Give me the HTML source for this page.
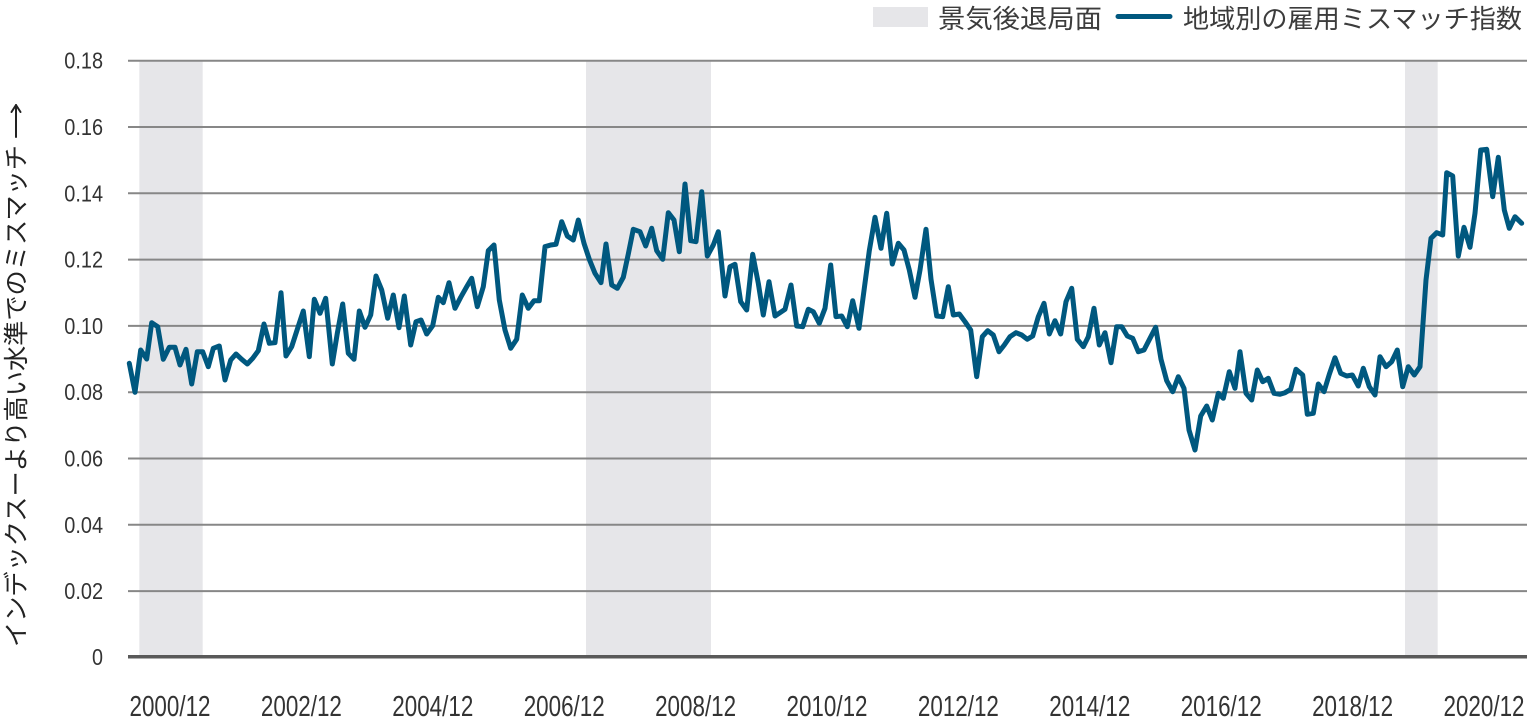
<!DOCTYPE html>
<html><head><meta charset="utf-8"><style>
html,body{margin:0;padding:0;background:#fff;}
svg{display:block;}
text{font-family:"Liberation Sans","Noto Sans CJK JP",sans-serif;}
</style></head><body>
<svg width="1532" height="720" viewBox="0 0 1532 720" xmlns="http://www.w3.org/2000/svg">
<rect x="0" y="0" width="1532" height="720" fill="#fff"/>
<!-- recession bands -->
<g fill="#e6e6e9">
<rect x="139.3" y="60" width="63.4" height="597"/>
<rect x="586" y="60" width="125" height="597"/>
<rect x="1405" y="60" width="32.7" height="597"/>
</g>
<!-- gridlines -->
<g stroke="#878787" stroke-width="2">
<line x1="128" x2="1527" y1="60.7" y2="60.7"/>
<line x1="128" x2="1527" y1="127" y2="127"/>
<line x1="128" x2="1527" y1="193.3" y2="193.3"/>
<line x1="128" x2="1527" y1="259.6" y2="259.6"/>
<line x1="128" x2="1527" y1="325.9" y2="325.9"/>
<line x1="128" x2="1527" y1="392.2" y2="392.2"/>
<line x1="128" x2="1527" y1="458.5" y2="458.5"/>
<line x1="128" x2="1527" y1="524.8" y2="524.8"/>
<line x1="128" x2="1527" y1="591.1" y2="591.1"/>
</g>
<line x1="128" x2="1527" y1="656.8" y2="656.8" stroke="#595959" stroke-width="3.5"/>
<!-- y tick labels -->
<g fill="#333" font-size="23" text-anchor="end">
<text x="103" y="68.7" textLength="38.7" lengthAdjust="spacingAndGlyphs">0.18</text>
<text x="103" y="135" textLength="38.7" lengthAdjust="spacingAndGlyphs">0.16</text>
<text x="103" y="201.3" textLength="38.7" lengthAdjust="spacingAndGlyphs">0.14</text>
<text x="103" y="267.6" textLength="38.7" lengthAdjust="spacingAndGlyphs">0.12</text>
<text x="103" y="333.9" textLength="38.7" lengthAdjust="spacingAndGlyphs">0.10</text>
<text x="103" y="400.2" textLength="38.7" lengthAdjust="spacingAndGlyphs">0.08</text>
<text x="103" y="466.5" textLength="38.7" lengthAdjust="spacingAndGlyphs">0.06</text>
<text x="103" y="532.8" textLength="38.7" lengthAdjust="spacingAndGlyphs">0.04</text>
<text x="103" y="599.1" textLength="38.7" lengthAdjust="spacingAndGlyphs">0.02</text>
<text x="103" y="665" textLength="11" lengthAdjust="spacingAndGlyphs">0</text>
</g>
<!-- x tick labels -->
<g fill="#333" font-size="29" text-anchor="middle">
<text x="170" y="716" textLength="81" lengthAdjust="spacingAndGlyphs">2000/12</text>
<text x="301.4" y="716" textLength="81" lengthAdjust="spacingAndGlyphs">2002/12</text>
<text x="432.8" y="716" textLength="81" lengthAdjust="spacingAndGlyphs">2004/12</text>
<text x="564.2" y="716" textLength="81" lengthAdjust="spacingAndGlyphs">2006/12</text>
<text x="695.6" y="716" textLength="81" lengthAdjust="spacingAndGlyphs">2008/12</text>
<text x="827" y="716" textLength="81" lengthAdjust="spacingAndGlyphs">2010/12</text>
<text x="958.4" y="716" textLength="81" lengthAdjust="spacingAndGlyphs">2012/12</text>
<text x="1089.8" y="716" textLength="81" lengthAdjust="spacingAndGlyphs">2014/12</text>
<text x="1221.2" y="716" textLength="81" lengthAdjust="spacingAndGlyphs">2016/12</text>
<text x="1352.6" y="716" textLength="81" lengthAdjust="spacingAndGlyphs">2018/12</text>
<text x="1484" y="716" textLength="81" lengthAdjust="spacingAndGlyphs">2020/12</text>
</g>
<!-- y axis title -->
<text transform="translate(25,647) rotate(-90)" x="0" y="0" fill="#222" font-size="25" textLength="502" lengthAdjust="spacingAndGlyphs">インデックスーより高い水準でのミスマッチ</text>
<g stroke="#222" stroke-width="2" fill="none" stroke-linecap="round" stroke-linejoin="round">
<line x1="16" y1="137" x2="16" y2="105"/>
<polyline points="11.5,112 16,105 20.5,112"/>
</g>
<!-- legend -->
<rect x="873" y="7" width="55" height="20" fill="#e6e6e9"/>
<text x="938" y="28" fill="#3c3c3c" font-size="26" textLength="164" lengthAdjust="spacingAndGlyphs">景気後退局面</text>
<line x1="1118" x2="1170" y1="16.5" y2="16.5" stroke="#00587f" stroke-width="5" stroke-linecap="round"/>
<text x="1183" y="28" fill="#3c3c3c" font-size="26" textLength="339" lengthAdjust="spacingAndGlyphs">地域別の雇用ミスマッチ指数</text>
<!-- data line -->
<polyline fill="none" stroke="#00587f" stroke-width="5" stroke-linejoin="round" stroke-linecap="round" points="
129.3,363.3 135,392.3 140.7,350 146.7,359 151.7,322.7 157.7,326.7 163.3,359.3 169.3,347.3 175,347.3 180,365 186,349.3 191.7,384 197.3,351.7 202.7,351.7 208.3,366.7 213.3,348.3 219.3,346 225,380 230.7,360 236,354 241.7,359.3 247.3,364 252.7,358.3 258.3,350.7 264,324 269.3,343.3 275,342.7 281,292.7 286,356 291.7,346.7 297.3,329.3 303.3,311 309.3,356.7 314.3,299.3 320,313.3 325.7,298.3 332.3,364 337.3,333.3 342.7,304 348.3,353.3 354,359.3 359.3,311 365,327.3 370.7,315 376,276 381.7,290 387.7,318.3 393.3,295 399,327.7 404.3,296 410.7,345 416,321.7 421,320 426.7,334 432.7,325.7 438.3,297.3 443.3,302.7 449,282.7 455,308.3 460.7,297.3 466.7,286.7
471.7,278.3 477.3,306.7 483.3,286.7 488.3,250.7 494,245 499.3,300 505,330 510.7,348.3 516.7,339.3 522.3,295 528.3,308.3 534,300.7 539.3,300.7 545,246.7 550.7,245 556,244.3 561.7,221.7 567.3,236 573.3,240 578.3,220 584,243.3 589.3,259.3 595,273.3 601,282.7 606,244 611.7,285 617.3,288.3 623.3,277.3 628.3,254 633.3,229.3 640,231.7 645.7,246 651.7,228.3 656.7,250.7 662.7,259.3 668.3,212.7 674,220 679.3,251.7 685,184 690.7,240.7 696,241.7 701.7,191.7 707.3,256 713.3,245 718.3,231.7 725,296 730,266.7 735,264.3 740.7,301.7 746.7,310 752.7,254.3 758.3,283.3 763.3,315 769,281.7 775,316 780,312.7 785,309.3 791,285 796.7,326 802.7,326.7 808.3,309.3 813.3,311.7 819.3,323.3 825,308.3
830.7,265 836,316.7 841.7,316 847.3,326.7 852.7,300.7 859,328.3 864.3,288.3 869.3,250.7 875,217.3 881,248.3 886.7,213.3 892.3,264 898.3,243.3 904,250 909.3,270 915,297.3 920,270 926,229.3 931,279.3 936.7,316 942.7,316.7 948.3,286.7 953.3,315 959.3,314 965,321.7 970.7,330 976.7,376.7 982.3,336.7 987.7,330.7 993.3,335 999,351.7 1004.3,345 1010,336.7 1016,332.7 1021.7,335 1027.3,339.3 1032.7,336 1038.3,316.7 1044,303.3 1049.3,334 1055,320.7 1060.7,334 1066,301.7 1071.7,288.3 1077.3,339.3 1083.3,346.7 1088.3,336.7 1094,308.3 1099.3,345 1105,332.7 1111,362.7 1116.7,326.7 1121.7,326.7 1127.3,336 1132.7,338.3 1138.3,351.7 1144,350 1150,338.3 1155.7,327.3 1161,359.3 1166.7,380.7 1172.7,391.7
1178.3,376.7 1184,388.3 1189,430 1195,450 1200.7,416 1206.7,406 1212.3,420 1218.3,393.3 1223.3,398.3 1229.3,371.7 1235,388.3 1240,351.7 1246,393.3 1251.7,400 1257.3,370 1262.7,381.7 1268.3,378.3 1274,393.3 1280,394.3 1285,392.7 1290.7,389.3 1296,369.3 1302.7,375 1307.3,414.3 1313.3,413.3 1318.3,384 1324,391.7 1329.3,374.3 1335,357.7 1340.7,373.3 1346.7,376 1352.3,375 1358.3,386 1363.3,368.3 1369.3,386.7 1375,395 1380,356.7 1386,366.7 1391.7,361.7 1397.3,350 1402.7,386.7 1408.3,366.7 1414.3,375 1420,366.7 1426,280 1431,238.3 1436.7,232.7 1442.7,235 1446.7,172.7 1452.7,176 1458.3,256 1464,227.3 1470,247.3 1475,213.3 1480.7,150 1486.7,149.3 1492.7,196.7 1498.3,157.3 1504.3,210 1509.3,228.3 1515,216.7 1521.7,223.3"/>
</svg>
</body></html>
